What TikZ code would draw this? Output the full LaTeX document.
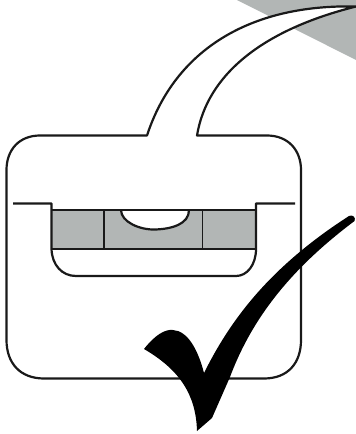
\documentclass[tikz,border=0pt]{standalone}
\usepackage{tikz}
\definecolor{levelgray}{HTML}{B2B6B5}
\begin{document}
\begin{tikzpicture}[
        x=1pt, y=-1pt,
        outline/.style={draw=black!90, line width=2.2pt, line join=round},
        grayfill/.style={fill=levelgray},
        thin outline/.style={draw=black!90, line width=1.8pt},
        checkmark/.style={fill=black}
    ]
        \useasboundingbox (0,0) rectangle (356,434);

        % Gray wedge
        \fill[grayfill] (237,0) -- (356,0) -- (356,60) -- cycle;

        % Body with tail
        \draw[outline, fill=white] (147,135.5) -- (40,135.5)
            .. controls (19,135.5) and (6.5,150) .. (6.5,170)
            -- (6.5,340)
            .. controls (6.5,363) and (20,378.5) .. (44,378.5)
            -- (264,378.5)
            .. controls (288,378.5) and (301,363) .. (301,340)
            -- (301,170)
            .. controls (301,150) and (288,135.5) .. (267,135.5)
            -- (197,135.5)
            .. controls (207,75) and (262,30) .. (356,6.5)
            .. controls (250,4) and (175,50) .. (147,135.5) -- cycle;

        % Level
        \fill[grayfill] (51.5,210) rectangle (256,249);
        \draw[outline, fill=white] (121,210)
            .. controls (121,222) and (140,230) .. (155,229.5)
            .. controls (172,229) and (189,224) .. (189,210);
        \draw[thin outline] (104,210) -- (104,249);
        \draw[thin outline] (202.5,210) -- (202.5,249);
        \draw[outline] (51.5,249) -- (256,249);
        \draw[outline] (51.5,210) -- (256,210);
        \draw[outline] (13,203.5) -- (51.5,203.5) -- (51.5,249)
            .. controls (52,265) and (62,276) .. (76,276)
            -- (236,276)
            .. controls (247,276) and (256,265) .. (256,249)
            -- (256,203.5) -- (295,203.5);

        % Check mark
        \fill[checkmark] (144,349)
            .. controls (155,335) and (165,329) .. (173,330)
            .. controls (188,331) and (198,350) .. (204,373)
            .. controls (228,325) and (265,270) .. (349,216)
            .. controls (353,214) and (356,218) .. (354.5,221)
            .. controls (300,262) and (255,310) .. (230,377)
            -- (212,418) -- (197,431)
            .. controls (196,395) and (180,370) .. (144,349) -- cycle;
    \end{tikzpicture}
\end{document}
